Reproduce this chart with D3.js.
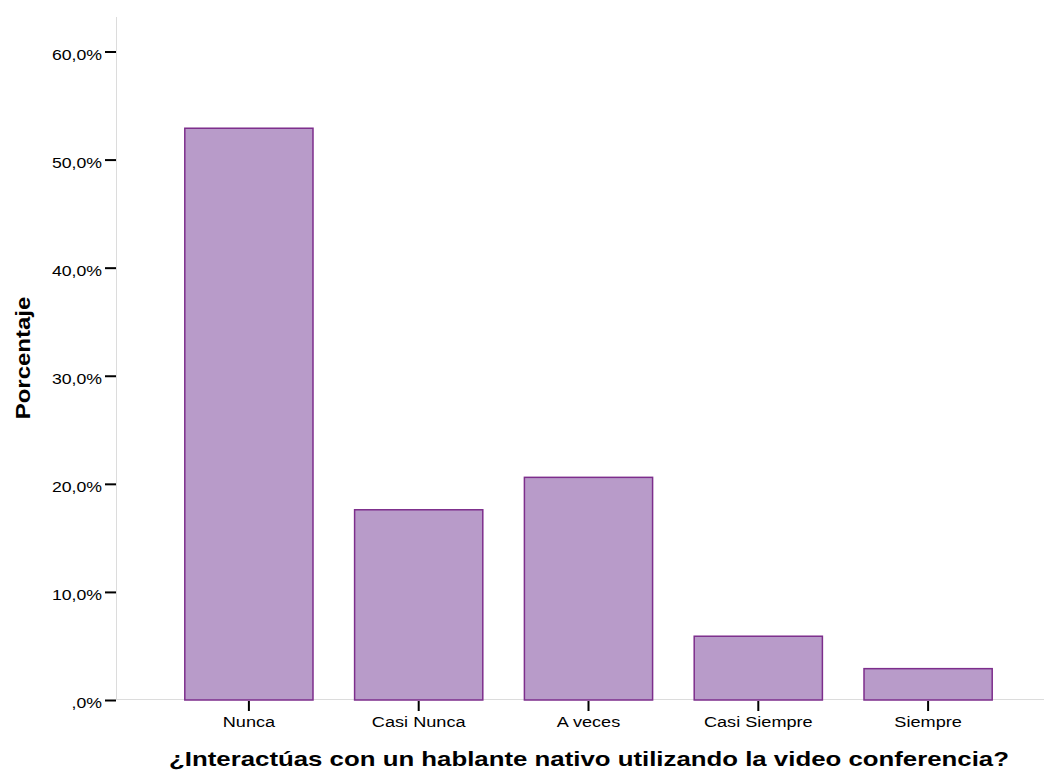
<!DOCTYPE html>
<html><head><meta charset="utf-8">
<script src="https://cdn.jsdelivr.net/npm/d3@7"></script>
<style>body{margin:0;background:#fff}svg text{font-family:"Liberation Sans",Arial,sans-serif}</style>
</head><body><svg id="c" width="1044" height="770"></svg>
<script>
const categories = ["Nunca","Casi Nunca","A veces","Casi Siempre","Siempre"];
const values = [52.9,17.6,20.6,5.9,2.9];
const yTicks = [0,10,20,30,40,50,60];
const xTitle = "¿Interactúas con un hablante nativo utilizando la video conferencia?";
const yTitle = "Porcentaje";

const svg = d3.select("#c");
const x = d3.scaleBand().domain(categories).range([164,1013]).paddingInner(0.245).paddingOuter(0.1225);
const y = d3.scaleLinear().domain([0,60]).range([700,51.5]);

svg.append("line").attr("x1",116.5).attr("x2",116.5).attr("y1",17).attr("y2",700).attr("stroke","#dcdcdc");
svg.append("line").attr("x1",116).attr("x2",1044).attr("y1",699.5).attr("y2",699.5).attr("stroke","#dcdcdc");

svg.selectAll("rect.bar").data(values).enter().append("rect").attr("class","bar")
  .attr("x",(d,i)=>x(categories[i])).attr("width",x.bandwidth())
  .attr("y",d=>y(d)).attr("height",d=>y(0)-y(d))
  .attr("fill","#b89bc9").attr("stroke","#7d2e8c").attr("stroke-width",1.5);

const fmt = d => (d===0?"":d3.format("d")(d)) + ",0%";
const sy = 1.14;
const ya = svg.append("g").attr("transform","translate(116,0)")
  .call(d3.axisLeft(y).tickValues(yTicks).tickFormat(fmt).tickSize(11).tickPadding(3));
ya.select(".domain").remove();
ya.selectAll(".tick line").attr("stroke","#000").attr("stroke-width",2);
ya.selectAll(".tick text").attr("font-size",15.5).attr("fill","#000")
  .attr("x",-14/sy).attr("dy","0.5em").attr("transform",`scale(${sy},1)`);

const sx = 1.17;
const xa = svg.append("g").attr("transform","translate(0,701)")
  .call(d3.axisBottom(x).tickSize(10).tickPadding(5));
xa.select(".domain").remove();
xa.selectAll(".tick line").attr("stroke","#000").attr("stroke-width",2);
xa.selectAll(".tick text").attr("font-size",15.5).attr("fill","#000").attr("transform",`scale(${sx},1)`);

svg.append("text").attr("transform","translate(589,766) scale(1.29,1)").attr("text-anchor","middle")
  .attr("font-size",20).attr("font-weight","bold").text(xTitle);
svg.append("text").attr("transform","translate(30,358) rotate(-90) scale(1.17,1)").attr("text-anchor","middle")
  .attr("font-size",20.5).attr("font-weight","bold").text(yTitle);
</script></body></html>
